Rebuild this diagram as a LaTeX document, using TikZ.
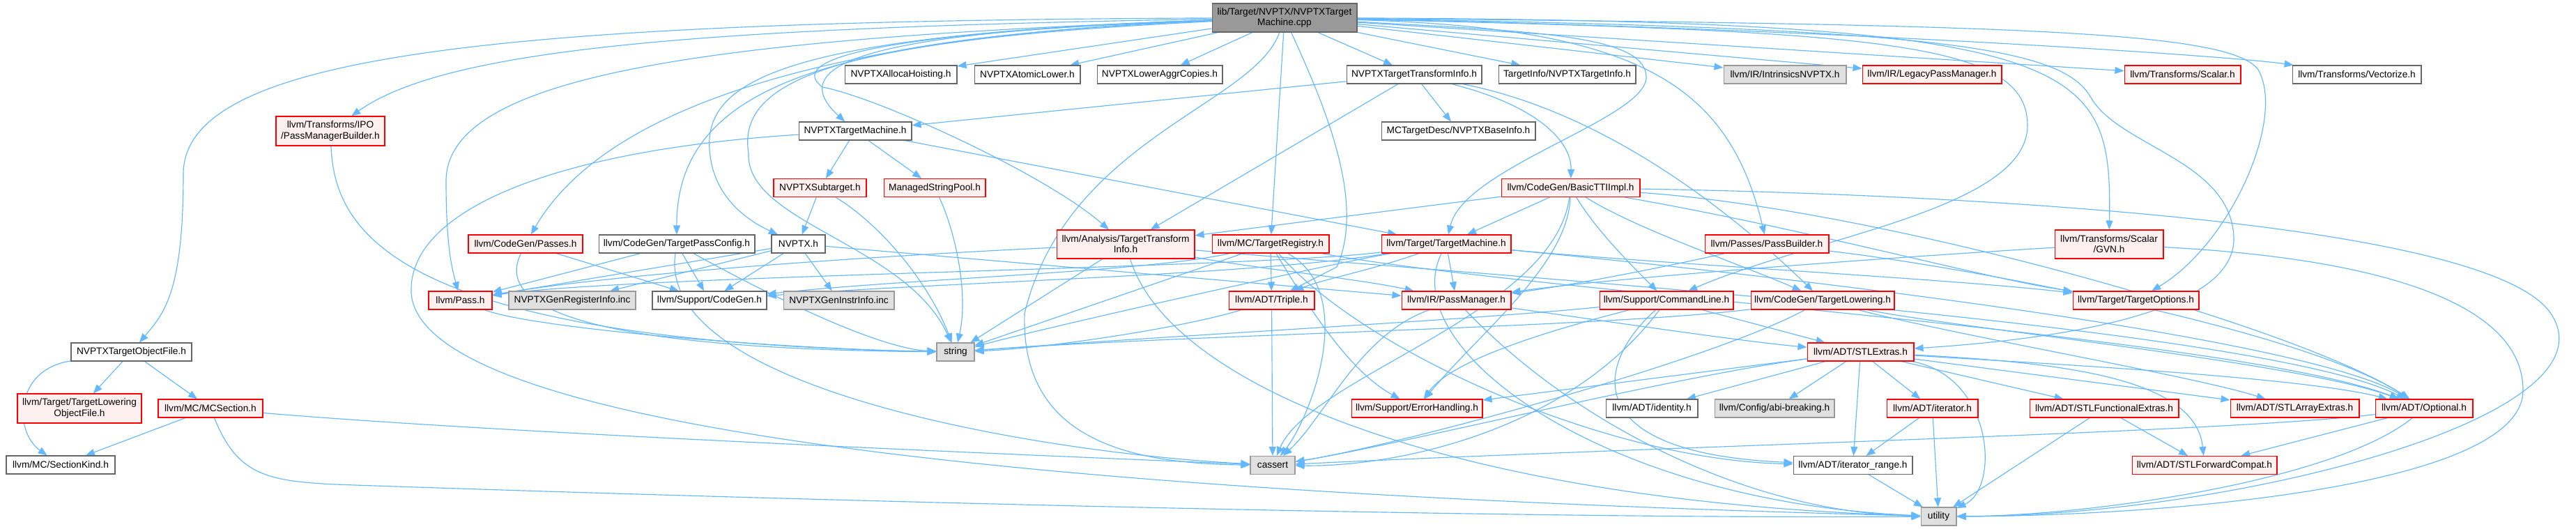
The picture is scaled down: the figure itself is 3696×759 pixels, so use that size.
\documentclass[tikz,border=0pt]{standalone}
\usepackage{fontspec}
\setmainfont{Liberation Sans}
\usetikzlibrary{arrows.meta,backgrounds}

\definecolor{edgeblue}{HTML}{63B8FF}
\definecolor{redline}{HTML}{FF0000}
\definecolor{redfill}{HTML}{FFF0F0}
\definecolor{sysfill}{HTML}{E0E0E0}
\definecolor{sysline}{HTML}{999999}
\definecolor{rootfill}{HTML}{999999}
\definecolor{boxline}{HTML}{666666}

\tikzset{
  hdr/.style={draw=boxline, fill=white, line width=0.6pt, minimum height=0.52cm,
    inner sep=0pt, align=center, font=\fontsize{7.8}{8.6}\selectfont},
  trunc/.style={hdr, draw=redline, fill=redfill},
  sys/.style={hdr, draw=sysline, fill=sysfill},
  src/.style={hdr, draw=boxline, fill=rootfill},
  inc/.style={draw=edgeblue, line width=0.65pt, -{Triangle[length=2.6mm,width=2mm]}},
}

\begin{document}
\begin{tikzpicture}[x=0.02cm, y=-0.02cm]
  \useasboundingbox (0,0) rectangle (3696,759);

  % The file itself
  \node[src, minimum width=4.16cm, minimum height=0.82cm] (root) at (1843,25.5) {lib/Target/NVPTX/NVPTXTarget\\Machine.cpp};

  % First row of headers
  \node[hdr, minimum width=3.22cm] (alloca) at (1292.5,107) {NVPTXAllocaHoisting.h};
  \node[hdr, minimum width=3.04cm] (atomic) at (1474,107) {NVPTXAtomicLower.h};
  \node[hdr, minimum width=3.6cm] (aggr) at (1664,107) {NVPTXLowerAggrCopies.h};
  \node[hdr, minimum width=3.88cm] (ttih) at (2029,107) {NVPTXTargetTransformInfo.h};
  \node[hdr, minimum width=3.94cm] (tinfo) at (2248.5,107) {TargetInfo/NVPTXTargetInfo.h};
  \node[sys, minimum width=3.52cm] (intr) at (2561,107) {llvm/IR/IntrinsicsNVPTX.h};
  \node[trunc, minimum width=4cm] (legacy) at (2772,107) {llvm/IR/LegacyPassManager.h};
  \node[trunc, minimum width=3.34cm] (scalar) at (3131.5,107) {llvm/Transforms/Scalar.h};
  \node[hdr, minimum width=3.7cm] (vect) at (3381.5,107) {llvm/Transforms/Vectorize.h};

  % Second and third rows
  \node[trunc, minimum width=3.12cm, minimum height=0.84cm] (pmb) at (474,188) {llvm/Transforms/IPO\\/PassManagerBuilder.h};
  \node[hdr, minimum width=3.24cm] (ptmh) at (1227,188) {NVPTXTargetMachine.h};
  \node[hdr, minimum width=4.42cm] (baseinfo) at (2092.5,188) {MCTargetDesc/NVPTXBaseInfo.h};
  \node[trunc, minimum width=2.66cm] (subtgt) at (1176.5,269.5) {NVPTXSubtarget.h};
  \node[trunc, minimum width=2.92cm] (msp) at (1341,269.5) {ManagedStringPool.h};
  \node[trunc, minimum width=3.98cm] (basictti) at (2253.5,269.5) {llvm/CodeGen/BasicTTIImpl.h};

  % Fourth row
  \node[trunc, minimum width=3.28cm] (passes) at (754,350) {llvm/CodeGen/Passes.h};
  \node[hdr, minimum width=4.48cm] (tpc) at (971,350) {llvm/CodeGen/TargetPassConfig.h};
  \node[hdr, minimum width=1.54cm] (nvptxh) at (1145.5,350) {NVPTX.h};
  \node[trunc, minimum width=3.96cm, minimum height=0.82cm] (ati) at (1615,350.5) {llvm/Analysis/TargetTransform\\Info.h};
  \node[trunc, minimum width=3.36cm] (treg) at (1823,350) {llvm/MC/TargetRegistry.h};
  \node[trunc, minimum width=3.72cm] (tm) at (2075,350) {llvm/Target/TargetMachine.h};
  \node[trunc, minimum width=3.56cm] (pb) at (2535,350) {llvm/Passes/PassBuilder.h};
  \node[trunc, minimum width=3.12cm, minimum height=0.82cm] (gvn) at (3026,350.5) {llvm/Transforms/Scalar\\/GVN.h};

  % Fifth row
  \node[trunc, minimum width=1.82cm] (pass) at (660.5,431) {llvm/Pass.h};
  \node[sys, minimum width=3.64cm] (genreg) at (821,431) {NVPTXGenRegisterInfo.inc};
  \node[hdr, minimum width=3.28cm] (cgh) at (1018,431) {llvm/Support/CodeGen.h};
  \node[sys, minimum width=3.18cm] (geninstr) at (1203.5,431) {NVPTXGenInstrInfo.inc};
  \node[trunc, minimum width=2.46cm] (triple) at (1824.5,431) {llvm/ADT/Triple.h};
  \node[trunc, minimum width=3.14cm] (pm) at (2089.5,431) {llvm/IR/PassManager.h};
  \node[trunc, minimum width=3.84cm] (cl) at (2391,431) {llvm/Support/CommandLine.h};
  \node[trunc, minimum width=4.12cm] (tl) at (2615,431) {llvm/CodeGen/TargetLowering.h};
  \node[trunc, minimum width=3.62cm] (topt) at (3064.5,431) {llvm/Target/TargetOptions.h};

  % Sixth and seventh rows
  \node[hdr, minimum width=3.46cm] (objf) at (188.5,505) {NVPTXTargetObjectFile.h};
  \node[sys, minimum width=1.08cm] (string) at (1371,505) {string};
  \node[trunc, minimum width=3.06cm] (stlx) at (2669.5,505) {llvm/ADT/STLExtras.h};
  \node[trunc, minimum width=3.56cm, minimum height=0.84cm] (tlof) at (114,586) {llvm/Target/TargetLowering\\ObjectFile.h};
  \node[trunc, minimum width=3cm] (mcsec) at (302,586) {llvm/MC/MCSection.h};
  \node[trunc, minimum width=3.76cm] (errh) at (2033,586) {llvm/Support/ErrorHandling.h};
  \node[hdr, minimum width=2.64cm] (ident) at (2370,586) {llvm/ADT/identity.h};
  \node[sys, minimum width=3.44cm] (abi) at (2546,586) {llvm/Config/abi-breaking.h};
  \node[trunc, minimum width=2.62cm] (iter) at (2772.5,586) {llvm/ADT/iterator.h};
  \node[trunc, minimum width=4.28cm] (sfe) at (3019,586) {llvm/ADT/STLFunctionalExtras.h};
  \node[trunc, minimum width=3.7cm] (sae) at (3292.5,586) {llvm/ADT/STLArrayExtras.h};
  \node[trunc, minimum width=2.8cm] (opt) at (3478,586) {llvm/ADT/Optional.h};

  % Bottom rows
  \node[hdr, minimum width=3.12cm] (secknd) at (87,667) {llvm/MC/SectionKind.h};
  \node[sys, minimum width=1.28cm] (cassert) at (1826,667.5) {cassert};
  \node[hdr, minimum width=3.42cm] (itr) at (2658.5,667.5) {llvm/ADT/iterator\_range.h};
  \node[trunc, minimum width=4.16cm] (sfc) at (3163,667.5) {llvm/ADT/STLForwardCompat.h};
  \node[sys, minimum width=1.02cm] (utility) at (2781.5,741) {utility};

  \begin{scope}[on background layer]
    \fill[white] (0,0) rectangle (3696,759);

    % Includes of the file itself
    \draw[inc] (root) .. controls (1250,45) and (1120,90) .. (ptmh);
    \draw[inc] (root) -- (alloca);
    \draw[inc] (root) -- (atomic);
    \draw[inc] (root) -- (aggr);
    \draw[inc] (root) -- (ttih);
    \draw[inc] (root) -- (tinfo);
    \draw[inc] (root) -- (intr);
    \draw[inc] (root) -- (legacy);
    \draw[inc] (root) -- (scalar);
    \draw[inc] (root) .. controls (2600,40) and (3200,80) .. (vect);
    \draw[inc] (root) -- (treg);
    \draw[inc] (root) .. controls (700,30) and (263,80) .. (263,250) .. controls (263,420) and (235,450) .. (objf);
    \draw[inc] (root) .. controls (1000,40) and (640,70) .. (pmb);
    \draw[inc] (root) .. controls (1000,55) and (640,110) .. (640,260) .. controls (640,360) and (650,390) .. (pass);
    \draw[inc] (root) .. controls (1200,50) and (870,150) .. (passes);
    \draw[inc] (root) .. controls (1250,55) and (970,100) .. (tpc);
    \draw[inc] (root) .. controls (1100,50) and (1000,120) .. (1020,230) .. controls (1030,290) and (1080,320) .. (nvptxh);
    \draw[inc] (root) .. controls (1150,55) and (1060,130) .. (1074,220) .. controls (1070,320) and (1300,350) .. (string);
    \draw[inc] (root) .. controls (1300,45) and (1120,80) .. (1180,125) .. controls (1260,140) and (1500,250) .. (ati);
    \draw[inc] (root) .. controls (1800,150) and (1530,200) .. (1470,450) .. controls (1465,620) and (1600,665) .. (cassert);
    \draw[inc] (root) .. controls (1900,150) and (1960,290) .. (1918,383) -- (triple);
    \draw[inc] (root) .. controls (2200,45) and (2360,50) .. (2362,110) .. controls (2364,170) and (2100,240) .. (tm);
    \draw[inc] (root) .. controls (2350,40) and (2480,120) .. (pb);
    \draw[inc] (root) .. controls (2700,45) and (2909,60) .. (2909,180) .. controls (2909,300) and (2600,340) .. (cl);
    \draw[inc] (root) .. controls (3000,30) and (3030,90) .. (gvn);
    \draw[inc] (root) .. controls (2800,40) and (2960,70) .. (3000,140) .. controls (3040,210) and (3200,230) .. (3205,340) .. controls (3210,460) and (2900,490) .. (stlx);
    \draw[inc] (root) .. controls (2900,35) and (3200,45) .. (3240,100) .. controls (3280,170) and (3200,350) .. (topt);

    % NVPTXTargetMachine.h and NVPTXTargetTransformInfo.h
    \draw[inc] (ptmh) -- (subtgt);
    \draw[inc] (ptmh) -- (msp);
    \draw[inc] (ptmh) -- (tm);
    \draw[inc] (ptmh) .. controls (800,215) and (585,300) .. (590,420) .. controls (600,580) and (1200,700) .. (utility);
    \draw[inc] (ttih) -- (ptmh);
    \draw[inc] (ttih) -- (baseinfo);
    \draw[inc] (ttih) -- (ati);
    \draw[inc] (ttih) .. controls (2200,150) and (2255,200) .. (basictti);
    \draw[inc] (ttih) .. controls (2300,160) and (2480,300) .. (tl);
    \draw[inc] (subtgt) -- (nvptxh);
    \draw[inc] (subtgt) .. controls (1260,320) and (1330,400) .. (string);
    \draw[inc] (msp) .. controls (1370,330) and (1390,420) .. (string);

    % NVPTX.h, pass config and passes
    \draw[inc] (nvptxh) -- (pass);
    \draw[inc] (nvptxh) -- (genreg);
    \draw[inc] (nvptxh) -- (cgh);
    \draw[inc] (nvptxh) -- (geninstr);
    \draw[inc] (nvptxh) -- (pm);
    \draw[inc] (tpc) -- (pass);
    \draw[inc] (tpc) -- (cgh);
    \draw[inc] (tpc) .. controls (1060,400) and (1250,500) .. (string);
    \draw[inc] (tpc) .. controls (940,560) and (1500,650) .. (cassert);
    \draw[inc] (passes) -- (cgh);
    \draw[inc] (passes) .. controls (720,420) and (760,500) .. (string);
    \draw[inc] (pmb) .. controls (480,330) and (560,490) .. (string);
    \draw[inc] (pass) .. controls (760,470) and (1100,500) .. (string);

    % Analysis, registry and target machine
    \draw[inc] (ati) .. controls (1300,365) and (900,390) .. (pass);
    \draw[inc] (ati) -- (string);
    \draw[inc] (ati) .. controls (1800,385) and (1950,400) .. (pm);
    \draw[inc] (ati) .. controls (1680,560) and (2100,720) .. (utility);
    \draw[inc] (ati) .. controls (2200,400) and (3250,470) .. (opt);
    \draw[inc] (treg) -- (triple);
    \draw[inc] (treg) .. controls (1650,390) and (1300,400) .. (cgh);
    \draw[inc] (treg) -- (string);
    \draw[inc] (treg) .. controls (1950,420) and (1880,600) .. (cassert);
    \draw[inc] (treg) .. controls (1900,480) and (1950,540) .. (errh);
    \draw[inc] (treg) .. controls (1950,500) and (2300,660) .. (itr);
    \draw[inc] (treg) .. controls (2200,420) and (3200,480) .. (opt);
    \draw[inc] (tm) .. controls (1960,390) and (1900,400) .. (triple);
    \draw[inc] (tm) -- (pm);
    \draw[inc] (tm) .. controls (1800,385) and (900,395) .. (pass);
    \draw[inc] (tm) .. controls (1800,395) and (1350,405) .. (cgh);
    \draw[inc] (tm) .. controls (2400,380) and (2800,400) .. (topt);
    \draw[inc] (tm) .. controls (2500,390) and (3300,480) .. (opt);
    \draw[inc] (tm) .. controls (1900,380) and (1500,470) .. (string);
    \draw[inc] (tm) .. controls (2000,500) and (2300,720) .. (utility);
    \draw[inc] (pb) .. controls (2380,385) and (2250,410) .. (pm);
    \draw[inc] (pb) .. controls (2800,380) and (3300,470) .. (opt);
    \draw[inc] (gvn) .. controls (2700,370) and (2300,400) .. (pm);
    \draw[inc] (gvn) .. controls (3400,370) and (3620,430) .. (3620,560) .. controls (3620,700) and (3100,740) .. (utility);

    % BasicTTIImpl.h
    \draw[inc] (basictti) -- (ati);
    \draw[inc] (basictti) -- (tm);
    \draw[inc] (basictti) .. controls (2350,330) and (2500,380) .. (tl);
    \draw[inc] (basictti) .. controls (2290,330) and (2340,380) .. (cl);
    \draw[inc] (basictti) .. controls (2250,380) and (2120,480) .. (errh);
    \draw[inc] (basictti) .. controls (2230,450) and (1880,540) .. (cassert);
    \draw[inc] (basictti) .. controls (2600,275) and (3560,300) .. (3660,450) .. controls (3760,600) and (3200,740) .. (utility);
    \draw[inc] (basictti) .. controls (2700,300) and (3300,470) .. (opt);
    \draw[inc] (basictti) .. controls (2600,330) and (2850,400) .. (topt);

    % Triple.h, PassManager.h, CommandLine.h, TargetLowering.h
    \draw[inc] (triple) -- (cassert);
    \draw[inc] (triple) .. controls (1700,470) and (1500,500) .. (string);
    \draw[inc] (pm) .. controls (2300,460) and (2500,490) .. (stlx);
    \draw[inc] (pm) .. controls (1950,480) and (1900,600) .. (cassert);
    \draw[inc] (pm) .. controls (2250,600) and (2500,735) .. (utility);
    \draw[inc] (cl) -- (stlx);
    \draw[inc] (cl) .. controls (2200,480) and (2080,520) .. (errh);
    \draw[inc] (cl) .. controls (2290,520) and (2260,650) .. (itr);
    \draw[inc] (cl) .. controls (2100,460) and (1700,480) .. (string);
    \draw[inc] (cl) .. controls (2250,620) and (2000,670) .. (cassert);
    \draw[inc] (tl) .. controls (2300,470) and (1700,480) .. (string);
    \draw[inc] (tl) .. controls (2450,520) and (2000,640) .. (cassert);
    \draw[inc] (tl) .. controls (2800,470) and (3300,520) .. (opt);
    \draw[inc] (tl) .. controls (2800,480) and (3150,540) .. (sae);

    % STLExtras.h and the ADT headers
    \draw[inc] (stlx) -- (errh);
    \draw[inc] (stlx) -- (ident);
    \draw[inc] (stlx) -- (abi);
    \draw[inc] (stlx) -- (iter);
    \draw[inc] (stlx) -- (itr);
    \draw[inc] (stlx) -- (sfe);
    \draw[inc] (stlx) -- (sae);
    \draw[inc] (stlx) .. controls (2900,520) and (3300,540) .. (opt);
    \draw[inc] (stlx) .. controls (2950,520) and (3150,540) .. (sfc);
    \draw[inc] (stlx) .. controls (2860,540) and (2870,700) .. (utility);
    \draw[inc] (stlx) .. controls (2400,540) and (2000,640) .. (cassert);
    \draw[inc] (iter) -- (itr);
    \draw[inc] (iter) -- (utility);
    \draw[inc] (itr) -- (utility);
    \draw[inc] (sfe) -- (sfc);
    \draw[inc] (sfe) -- (utility);
    \draw[inc] (opt) -- (sfc);
    \draw[inc] (opt) .. controls (3350,690) and (3000,740) .. (utility);
    \draw[inc] (opt) .. controls (3200,620) and (2400,640) .. (cassert);

    % Object file headers
    \draw[inc] (objf) .. controls (20,530) and (20,620) .. (secknd);
    \draw[inc] (objf) -- (tlof);
    \draw[inc] (objf) -- (mcsec);
    \draw[inc] (mcsec) -- (secknd);
    \draw[inc] (mcsec) .. controls (700,620) and (1400,650) .. (cassert);
    \draw[inc] (mcsec) .. controls (340,680) and (380,690) .. (480,695) .. controls (1200,720) and (2200,745) .. (utility);
  \end{scope}
\end{tikzpicture}
\end{document}
